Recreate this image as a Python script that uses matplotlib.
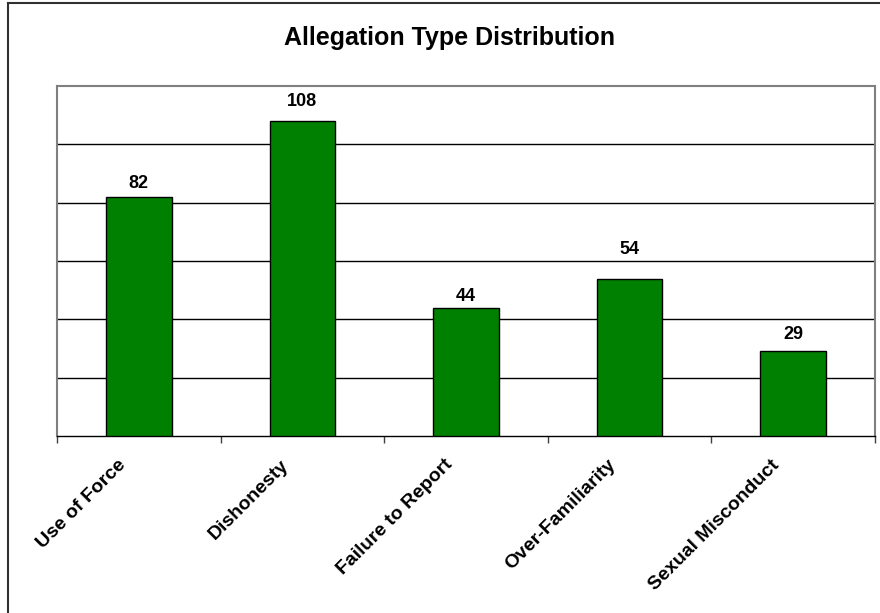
import matplotlib
matplotlib.use("Agg")
import matplotlib.pyplot as plt
import matplotlib.transforms as mtransforms
from matplotlib.lines import Line2D
import numpy as np

categories = ["Use of Force", "Dishonesty", "Failure to Report", "Over-Familiarity", "Sexual Misconduct"]
values = [82, 108, 44, 54, 29]
title = "Allegation Type Distribution"

# label placement (layout, pixels above bar top)
label_gaps_px = [9, 15, 7, 24, 12]

plt.rcParams['font.family'] = ['Liberation Sans', 'DejaVu Sans']

W, H = 880, 613
fig = plt.figure(figsize=(W/100, H/100), dpi=100)
ax = fig.add_axes([57/W, 1-436/H, (875-57)/W, (436-86)/H])

x = np.arange(len(categories))
ax.bar(x, values, width=0.4, color="#008000", edgecolor="black", linewidth=1, zorder=3)
for xi, v, g in zip(x, values, label_gaps_px):
    ax.annotate(str(v), (xi, v), xytext=(0, g*0.72), textcoords="offset points",
                ha="center", va="baseline", fontsize=13, fontweight="bold")

ax.set_xlim(-0.5, len(categories)-0.5)
ax.set_ylim(0, 120)
ax.set_yticks(np.arange(20, 120, 20))
ax.yaxis.grid(True, color="black", linewidth=1, zorder=0)
ax.tick_params(axis="y", length=0, labelleft=False)
ax.set_xticks(x)
ax.set_xticklabels(categories, rotation=45, ha="right", va="bottom", rotation_mode="anchor",
                   fontsize=14, fontweight="bold")
ax.tick_params(axis="x", which="major", length=0, pad=14)
off = mtransforms.ScaledTranslation(-10/100, -13/100, fig.dpi_scale_trans)
for lab in ax.get_xticklabels():
    lab.set_transform(lab.get_transform() + off)
ax.set_xticks(np.arange(-0.5, len(categories), 1.0), minor=True)
ax.tick_params(axis="x", which="minor", length=5, width=1, color="#404040", direction="out")
for s in ["top", "left", "right"]:
    ax.spines[s].set_color("#808080")
    ax.spines[s].set_linewidth(1.5)
ax.spines["bottom"].set_color("black")
ax.spines["bottom"].set_linewidth(1)

fig.text(449/W, 1-38/H, title, ha="center", va="center", fontsize=18, fontweight="bold")

# outer chart border (top and left visible)
fig.add_artist(Line2D([8/W, 1.0], [1-3/H, 1-3/H], color="#303030", linewidth=1.5, transform=fig.transFigure))
fig.add_artist(Line2D([8/W, 8/W], [0.0, 1-3/H], color="#303030", linewidth=1.5, transform=fig.transFigure))

fig.savefig("out.png", dpi=100)
